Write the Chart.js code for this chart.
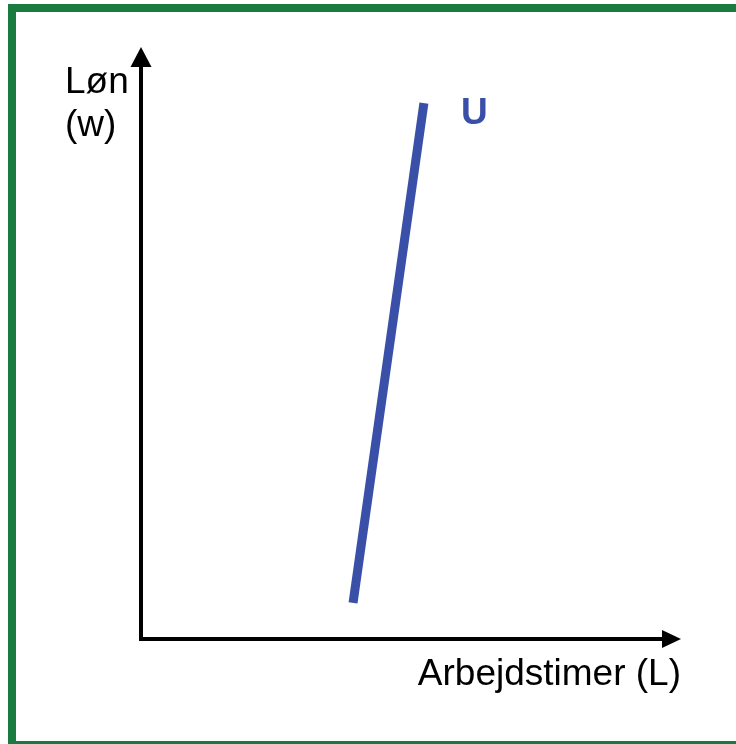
<!DOCTYPE html>
<html lang="da">
<head>
    <meta charset="UTF-8">
    <title>Udbud af arbejdskraft</title>
    <script src="https://cdn.jsdelivr.net/npm/chart.js"></script>
    <style>
        html, body {
            margin: 0;
            padding: 0;
            overflow: hidden;
            background: #fff;
        }
        .frame {
            position: absolute;
            left: 8px;
            top: 4px;
            width: 800px;
            height: 729px;
            border: 8px solid #1a7b40;
        }
        #supplyChart {
            position: absolute;
            left: 0;
            top: 0;
        }
    </style>
</head>
<body>
    <div class="frame"></div>
    <canvas id="supplyChart" width="736" height="744"></canvas>
<script>
    // arbejdstimer (x) og løn (y) for udbudskurven U
    const laborHours = [40.7, 54.3];
    const wageLevels = [6.3, 93.7];
    const curveLabel = 'U';
    const xTitle = 'Arbejdstimer (L)';
    const yTitle = ['Løn', '(w)'];

    const blue = '#3a4fa7';
    Chart.defaults.font.family = '"Liberation Sans", Arial, sans-serif';

    // pile på akserne + akse-tekster
    const axisDecor = {
        id: 'axisDecor',
        afterDraw(chart) {
            const ctx = chart.ctx;
            const a = chart.chartArea;
            const x0 = chart.scales.x.getPixelForValue(0);
            const y0 = chart.scales.y.getPixelForValue(0);
            const xEnd = chart.scales.x.getPixelForValue(100);
            const yEnd = chart.scales.y.getPixelForValue(100);
            ctx.save();
            ctx.fillStyle = '#000';
            // hjørne
            ctx.fillRect(x0 - 2, y0 - 2, 4, 4);
            // pil op
            ctx.beginPath();
            ctx.moveTo(x0, yEnd - 20);
            ctx.lineTo(x0 - 10.5, yEnd);
            ctx.lineTo(x0 + 10.5, yEnd);
            ctx.closePath();
            ctx.fill();
            // pil til højre
            ctx.beginPath();
            ctx.moveTo(xEnd + 19, y0);
            ctx.lineTo(xEnd, y0 - 9);
            ctx.lineTo(xEnd, y0 + 9);
            ctx.closePath();
            ctx.fill();

            ctx.font = '37px "Liberation Sans", Arial, sans-serif';
            ctx.textBaseline = 'alphabetic';
            ctx.textAlign = 'left';
            ctx.fillText(yTitle[0], a.left - 76, a.top + 26);
            ctx.fillText(yTitle[1], a.left - 76, a.top + 69);
            ctx.textAlign = 'right';
            ctx.fillText(xTitle, a.right + 19, a.bottom + 46);

            // kurvens navn ved øverste punkt
            const pts = chart.getDatasetMeta(0).data;
            const top = pts[pts.length - 1];
            ctx.font = 'bold 37px "Liberation Sans", Arial, sans-serif';
            ctx.textAlign = 'left';
            ctx.fillStyle = blue;
            ctx.fillText(curveLabel, top.x + 37, top.y + 21);
            ctx.restore();
        }
    };

    new Chart(document.getElementById('supplyChart'), {
        type: 'scatter',
        data: {
            datasets: [{
                label: curveLabel,
                data: laborHours.map((h, i) => ({ x: h, y: wageLevels[i] })),
                showLine: true,
                borderColor: blue,
                borderWidth: 9,
                borderCapStyle: 'butt',
                pointRadius: 0,
                fill: false
            }]
        },
        options: {
            responsive: false,
            animation: false,
            layout: {
                padding: { left: 141, top: 67, right: 74, bottom: 105 }
            },
            plugins: {
                legend: { display: false },
                tooltip: { enabled: false }
            },
            scales: {
                x: {
                    type: 'linear',
                    min: 0,
                    max: 100,
                    ticks: { display: false },
                    grid: { display: false, drawTicks: false },
                    border: { display: true, color: '#000', width: 4 }
                },
                y: {
                    type: 'linear',
                    min: 0,
                    max: 100,
                    ticks: { display: false },
                    grid: { display: false, drawTicks: false },
                    border: { display: true, color: '#000', width: 4 }
                }
            }
        },
        plugins: [axisDecor]
    });
</script>
</body>
</html>
